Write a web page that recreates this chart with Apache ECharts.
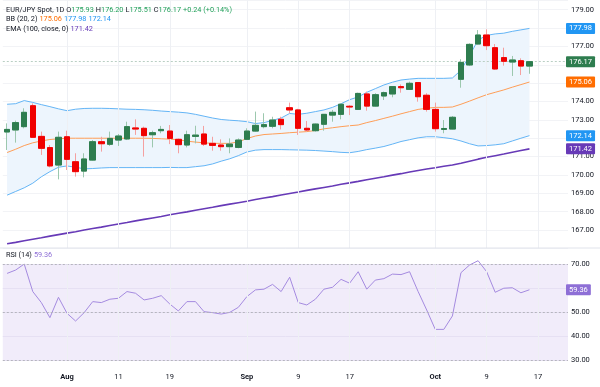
<!DOCTYPE html>
<html><head><meta charset="utf-8">
<script src="https://cdn.jsdelivr.net/npm/echarts@6/dist/echarts.min.js"></script>
<style>html,body{margin:0;padding:0;background:#fff}#c{width:600px;height:387px}</style>
</head><body><div id="c"></div><script>
const dates = ['2025-07-23','2025-07-24','2025-07-25','2025-07-28','2025-07-29','2025-07-30','2025-07-31',
'2025-08-01','2025-08-04','2025-08-05','2025-08-06','2025-08-07','2025-08-08','2025-08-11','2025-08-12','2025-08-13','2025-08-14','2025-08-15','2025-08-18','2025-08-19','2025-08-20','2025-08-21','2025-08-22','2025-08-25','2025-08-26','2025-08-27','2025-08-28','2025-08-29',
'2025-09-01','2025-09-02','2025-09-03','2025-09-04','2025-09-05','2025-09-08','2025-09-09','2025-09-10','2025-09-11','2025-09-12','2025-09-15','2025-09-16','2025-09-17','2025-09-18','2025-09-19','2025-09-22','2025-09-23','2025-09-24','2025-09-25','2025-09-26','2025-09-29','2025-09-30',
'2025-10-01','2025-10-02','2025-10-03','2025-10-06','2025-10-07','2025-10-08','2025-10-09','2025-10-10','2025-10-13','2025-10-14','2025-10-15','2025-10-16','2025-10-17','2025-10-20','2025-10-21','2025-10-22'];

const xTickDates = ['2025-08-01','2025-08-11','2025-08-19','2025-09-01','2025-09-09','2025-09-17','2025-10-01','2025-10-09','2025-10-17'];
const xTickLabels = ['Aug','11','19','Sep','9','17','Oct','9','17'];

const open  = [172.34,172.45,172.63,173.77,172.10,171.49,170.54,172.08,170.72,170.21,170.81,171.81,171.67,171.90,171.96,172.56,172.54,172.19,172.41,172.39,171.94,171.63,172.10,172.23,171.72,171.63,171.54,171.50,171.94,172.39,172.63,172.65,173.03,173.66,173.54,172.54,172.41,172.76,173.26,173.30,173.74,173.57,174.41,173.75,174.30,174.41,174.81,174.66,175.03,174.34,173.57,172.48,172.50,175.21,175.99,177.13,177.62,176.93,176.39,176.15,176.22,175.93];
const high  = [172.81,172.96,173.63,173.90,172.36,171.63,172.36,172.41,171.18,171.18,171.90,172.08,172.36,172.23,172.90,173.03,172.63,172.41,172.67,172.72,171.98,172.41,172.68,172.67,172.08,171.94,171.99,171.99,172.54,173.45,173.36,173.17,173.17,173.94,173.60,172.94,172.80,173.32,173.54,173.87,173.81,174.48,174.54,174.45,174.54,174.83,174.93,175.08,175.05,174.45,173.94,172.99,173.21,176.30,177.17,177.89,177.93,177.13,176.93,176.48,176.35,176.20];
const low   = [171.36,171.76,172.54,172.03,171.09,170.41,169.76,170.27,169.91,169.87,170.78,171.27,171.58,171.58,171.90,172.18,171.00,171.50,172.27,171.68,171.18,171.50,171.72,171.58,171.32,171.32,171.18,171.45,171.90,172.36,172.54,172.54,172.48,173.36,172.18,172.36,172.36,172.41,172.90,173.03,173.26,173.54,173.50,173.72,174.08,174.23,174.48,174.63,173.99,173.45,172.36,172.27,172.48,174.75,175.93,177.11,176.80,175.72,175.95,175.39,175.44,175.51];
const close = [172.48,172.85,173.41,172.05,171.45,170.49,172.05,170.85,170.18,170.87,171.81,171.70,171.99,172.12,172.63,172.50,172.14,172.30,172.48,171.99,171.65,172.19,172.17,171.68,171.61,171.54,171.68,171.90,172.39,172.70,172.74,172.99,172.74,173.54,172.54,172.45,172.77,173.30,173.41,173.85,173.70,174.44,173.75,174.37,174.48,174.81,174.75,174.99,174.26,173.57,172.52,172.53,173.14,176.13,177.11,177.62,177.04,175.77,176.19,176.26,175.93,176.17];

const bbUpper = [173.85,173.88,174.05,173.95,173.83,173.72,173.60,173.50,173.58,173.62,173.63,173.63,173.62,173.60,173.58,173.57,173.55,173.52,173.48,173.45,173.42,173.38,173.30,173.20,173.10,173.02,172.98,172.95,172.90,172.80,172.85,172.97,173.10,173.35,173.30,173.36,173.45,173.54,173.68,173.88,174.10,174.25,174.50,174.70,174.90,175.05,175.17,175.22,175.26,175.26,175.26,175.26,175.28,175.70,176.50,177.35,177.60,177.68,177.72,177.82,177.90,177.98];
const bbBasis = [171.22,171.40,171.60,171.75,171.85,171.93,171.97,172.00,172.00,172.00,172.00,172.00,172.00,172.00,172.00,172.00,172.00,171.99,171.97,171.95,171.92,171.84,171.79,171.75,171.72,171.72,171.72,171.80,171.98,172.12,172.20,172.23,172.26,172.30,172.33,172.36,172.42,172.51,172.57,172.63,172.68,172.72,172.85,172.96,173.08,173.20,173.33,173.45,173.57,173.63,173.68,173.68,173.70,173.85,174.02,174.20,174.37,174.50,174.63,174.78,174.92,175.06];
const bbLower = [168.90,169.10,169.30,169.55,169.90,170.18,170.42,170.49,170.42,170.33,170.35,170.38,170.40,170.40,170.40,170.40,170.40,170.40,170.40,170.41,170.40,170.40,170.45,170.50,170.60,170.75,170.88,171.05,171.25,171.35,171.38,171.38,171.38,171.37,171.36,171.35,171.33,171.30,171.27,171.23,171.21,171.28,171.38,171.46,171.55,171.68,171.82,171.92,172.02,172.08,172.08,172.03,171.97,171.85,171.70,171.58,171.60,171.64,171.70,171.85,172.00,172.14];
const ema100 = [166.25,166.33,166.42,166.50,166.58,166.67,166.75,166.83,166.91,167.00,167.08,167.16,167.25,167.33,167.41,167.50,167.58,167.66,167.74,167.83,167.91,167.99,168.08,168.16,168.24,168.33,168.41,168.49,168.57,168.66,168.74,168.82,168.91,168.99,169.07,169.16,169.24,169.32,169.40,169.49,169.57,169.65,169.74,169.82,169.90,169.99,170.07,170.16,170.24,170.32,170.39,170.47,170.54,170.64,170.75,170.86,170.96,171.05,171.14,171.24,171.33,171.42];
const rsi14 = [66.2,67.6,70.1,58.6,54.0,47.7,56.2,49.5,46.3,49.8,54.4,54.0,55.4,55.8,58.6,57.9,55.1,55.8,56.9,53.4,50.5,54.4,54.4,50.2,49.8,49.2,49.9,52.0,56.5,59.3,59.6,61.6,58.6,64.6,54.0,53.0,55.4,59.6,60.4,63.7,62.1,66.9,59.6,63.4,64.0,65.9,65.7,66.9,58.6,50.9,42.8,42.8,48.4,66.5,69.7,71.5,66.9,58.3,60.0,60.2,58.1,59.36];
const priceTicks = {min:166, max:179.5, interval:1};
const rsiTicks = {min:30, max:70, interval:10};

const FONT = 'Roboto, "Noto Sans", sans-serif';
const GREEN='#2e7d4f', RED='#f00000', GREEN_W='#9cc8ae', RED_W='#f5a0a0';
const BLUE='#2196f3', BLUE_L='#64b5f6', ORANGE='#ff6d00', ORANGE_L='#ff9e57', PURPLE='#673ab7', RSI_C='#a58be0', RSI_B='#8e6fd6';
const INK='#131722';
const LF = 7.3;
const last = close.length-1;
const f2 = v => v.toFixed(2);
const chg = close[last]-close[last-1];
const pct = chg/close[last-1]*100;

const wickData = open.map((o,i)=>[o, close[i], low[i], high[i]]);
const bodyData = open.map((o,i)=>[o, close[i], Math.min(o,close[i]), Math.max(o,close[i])]);
const bandDiff = bbUpper.map((u,i)=>+(u-bbLower[i]).toFixed(4));

const isTick = (i,v) => xTickDates.indexOf(v) >= 0;
function xAxisCfg(gi, showLabels){
  return {type:'category', gridIndex:gi, data:dates, boundaryGap:true,
    axisLine:{show:false}, axisTick:{show:false},
    axisLabel:{show:showLabels, interval:isTick, margin:13, fontSize:7.5, color:INK, fontFamily:FONT,
      formatter:v=>{const t=xTickLabels[xTickDates.indexOf(v)]; return /[A-Za-z]/.test(t)?'{m|'+t+'}':t;},
      rich:{m:{fontWeight:'bold',fontSize:7.5,color:INK,fontFamily:FONT}}},
    splitLine:{show:false}};
}
const HIDE = {color:'rgba(0,0,0,0)', width:0};
function badge(v, bg, lineStyle){
  return {yAxis:v, lineStyle: lineStyle || HIDE,
    label:{show:true, position:'end', distance:-2, formatter:f2(v), color:'#fff', backgroundColor:bg,
      fontSize:7.5, fontFamily:FONT, padding:[2,3,1,3], borderRadius:1}};
}
const vLines = xTickDates.map(d=>({xAxis:d}));
const vLineStyle = {color:'#eef0f4', width:1, type:'solid'};
function tstyle(c){return {color:c, fontSize:LF, fontFamily:FONT};}

const chart = echarts.init(document.getElementById('c'), null, {renderer:'canvas'});
chart.setOption({
  animation:false, backgroundColor:'#fff',
  title:[
    {left:6, top:6.6, padding:0,
     text:'{t|EUR/JPY Spot, 1D} {k|O}{g|'+f2(open[last])+'} {k|H}{g|'+f2(high[last])+'} {k|L}{g|'+f2(low[last])+'} {k|C}{g|'+f2(close[last])+'} {g|'+(chg>=0?'+':'')+f2(chg)+' ('+(pct>=0?'+':'')+f2(pct)+'%)}',
     textStyle:{fontSize:LF, fontWeight:'normal', rich:{t:tstyle(INK),k:tstyle(INK),g:tstyle('#22a05a')}}},
    {left:6, top:15.9, padding:0,
     text:'{t|BB (20, 2)} {o|'+f2(bbBasis[last])+'} {b|'+f2(bbUpper[last])+'} {b|'+f2(bbLower[last])+'}',
     textStyle:{fontSize:LF, fontWeight:'normal', rich:{t:tstyle(INK),o:tstyle(ORANGE),b:tstyle(BLUE)}}},
    {left:6, top:25.3, padding:0,
     text:'{t|EMA (100, close, 0)} {p|'+f2(ema100[last])+'}',
     textStyle:{fontSize:LF, fontWeight:'normal', rich:{t:tstyle(INK),p:tstyle(PURPLE)}}},
    {left:6, top:251.6, padding:0,
     text:'{t|RSI (14)} {p|'+f2(rsi14[last])+'}',
     textStyle:{fontSize:LF, fontWeight:'normal', rich:{t:tstyle(INK),p:tstyle(RSI_B)}}}
  ],
  grid:[{left:2.8, right:32, top:0.5, height:247.9},
        {left:2.8, right:32, top:264.3, height:95.7, show:true, backgroundColor:'#f1ecfa', borderWidth:0}],
  xAxis:[xAxisCfg(0,false), xAxisCfg(1,true)],
  yAxis:[
    {type:'value', gridIndex:0, position:'right', min:priceTicks.min, max:priceTicks.max, interval:priceTicks.interval,
     axisLine:{show:false}, axisTick:{show:false},
     axisLabel:{margin:3, fontSize:7.5, color:INK, fontFamily:FONT, formatter:v=>f2(v), showMinLabel:false, showMaxLabel:false},
     splitLine:{lineStyle:{color:'#f2f3f6'}}},
    {type:'value', gridIndex:1, position:'right', min:rsiTicks.min, max:rsiTicks.max, interval:rsiTicks.interval,
     axisLine:{show:false}, axisTick:{show:false},
     axisLabel:{margin:3, fontSize:7.5, color:INK, fontFamily:FONT, formatter:v=> v===60?'':f2(v), showMinLabel:true, showMaxLabel:true, hideOverlap:false},
     splitLine:{lineStyle:{color:'#e6e0f3'}}}
  ],
  graphic:[
    {type:'line', shape:{x1:0,y1:248,x2:600,y2:248}, style:{stroke:'#e0e3eb',lineWidth:1}, z:10}
  ],
  series:[
    {type:'line', xAxisIndex:0, yAxisIndex:0, data:bbLower, stack:'bb', symbol:'none', silent:true, lineStyle:{opacity:0}, z:1,
     markLine:{silent:true, symbol:'none', label:{show:false}, lineStyle:vLineStyle, data:vLines}},
    {type:'line', xAxisIndex:0, yAxisIndex:0, data:bandDiff, stack:'bb', symbol:'none', silent:true, lineStyle:{opacity:0}, areaStyle:{color:'#edf5fd',opacity:1}, z:1},
    {type:'line', xAxisIndex:0, yAxisIndex:0, data:bbUpper, symbol:'none', lineStyle:{color:BLUE_L,width:1}, z:2},
    {type:'line', xAxisIndex:0, yAxisIndex:0, data:bbLower, symbol:'none', lineStyle:{color:BLUE_L,width:1}, z:2},
    {type:'line', xAxisIndex:0, yAxisIndex:0, data:bbBasis, symbol:'none', lineStyle:{color:ORANGE_L,width:1}, z:2},
    {type:'line', xAxisIndex:0, yAxisIndex:0, data:ema100, symbol:'none', lineStyle:{color:PURPLE,width:1.6}, z:2},
    {type:'candlestick', xAxisIndex:0, yAxisIndex:0, data:wickData, barWidth:6, z:5,
     itemStyle:{color:GREEN_W,color0:RED_W,borderColor:GREEN_W,borderColor0:RED_W,borderWidth:1}},
    {type:'candlestick', xAxisIndex:0, yAxisIndex:0, data:bodyData, barWidth:6, z:6,
     itemStyle:{color:GREEN,color0:RED,borderColor:GREEN,borderColor0:RED,borderWidth:1},
     markLine:{silent:true, symbol:'none', data:[
       badge(close[last], GREEN, {color:'#b9cfc3', type:[2,2], width:1}),
       badge(bbUpper[last], BLUE), badge(bbBasis[last], ORANGE), badge(bbLower[last], BLUE), badge(ema100[last], PURPLE)
     ]}},
    {type:'line', xAxisIndex:1, yAxisIndex:1, data:rsi14, symbol:'none', clip:false, lineStyle:{color:RSI_C,width:1}, z:4,
     markLine:{silent:true, symbol:'none', data:[
       {yAxis:70, lineStyle:{color:'#b5b5bd',type:[2,2],width:1}, label:{show:false}},
       {yAxis:50, lineStyle:{color:'#b5b5bd',type:[2,2],width:1}, label:{show:false}},
       {yAxis:30, lineStyle:{color:'#b5b5bd',type:[2,2],width:1}, label:{show:false}},
       badge(rsi14[last], RSI_B)
     ]}},
    {type:'line', xAxisIndex:1, yAxisIndex:1, data:[], symbol:'none', z:1,
     markLine:{silent:true, symbol:'none', label:{show:false}, lineStyle:vLineStyle, data:vLines}}
  ]
});
</script></body></html>
